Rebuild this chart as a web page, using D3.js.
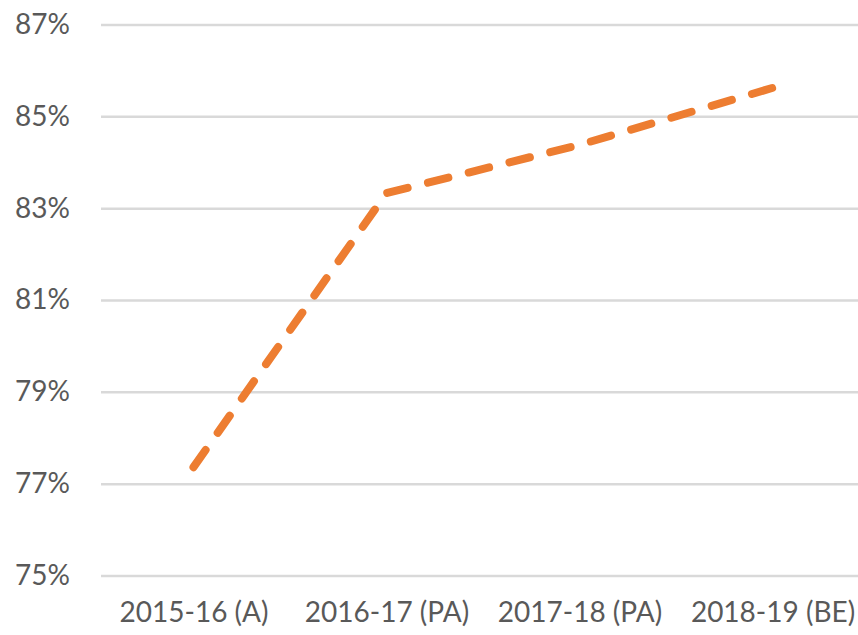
<!DOCTYPE html>
<html>
<head>
<meta charset="utf-8">
<script src="https://cdn.jsdelivr.net/npm/d3@7"></script>
<style>
  html, body { margin: 0; padding: 0; background: #fff; }
  svg { display: block; }
</style>
</head>
<body>
<svg id="chart" width="858" height="635"></svg>
<script>
const categories = ["2015-16 (A)", "2016-17 (PA)", "2017-18 (PA)", "2018-19 (BE)"];
const values = [77.37, 83.34, 84.39, 85.63];
const yTicks = [75, 77, 79, 81, 83, 85, 87];

const svg = d3.select("#chart");
const W = 858, H = 635;

const x = d3.scalePoint().domain(categories).range([97, 869]).padding(0.5);
const y = d3.scaleLinear().domain([75, 87]).range([576, 25]);

const font = "Lato, 'Open Sans', sans-serif";
const textColor = "#595959";

// gridlines
svg.append("g").selectAll("line").data(yTicks).join("line")
  .attr("x1", 101).attr("x2", W)
  .attr("y1", d => y(d)).attr("y2", d => y(d))
  .attr("stroke", "#d9d9d9").attr("stroke-width", 2.5);

// y axis labels
const yAxis = d3.axisLeft(y).tickValues(yTicks).tickFormat(d => d + "%").tickSize(0).tickPadding(0);
const gy = svg.append("g").attr("transform", "translate(70,0)").call(yAxis);
gy.select(".domain").remove();
gy.selectAll("text")
  .attr("font-family", font).attr("font-size", 28).attr("fill", textColor)
  .attr("dy", "0.3em");

// x axis labels
const xAxis = d3.axisBottom(x).tickSize(0).tickPadding(0);
const gx = svg.append("g").attr("transform", "translate(0,612)").call(xAxis);
gx.select(".domain").remove();
gx.selectAll("text")
  .attr("font-family", font).attr("font-size", 28).attr("fill", textColor)
  .attr("dy", "0.35em");

// line
const line = d3.line().x((d, i) => x(categories[i])).y(d => y(d));
svg.append("path").datum(values)
  .attr("d", line)
  .attr("fill", "none")
  .attr("stroke", "#ed7d31")
  .attr("stroke-width", 8)
  .attr("stroke-linecap", "round")
  .attr("stroke-linejoin", "round")
  .attr("stroke-dasharray", "21 21");
</script>
</body>
</html>
